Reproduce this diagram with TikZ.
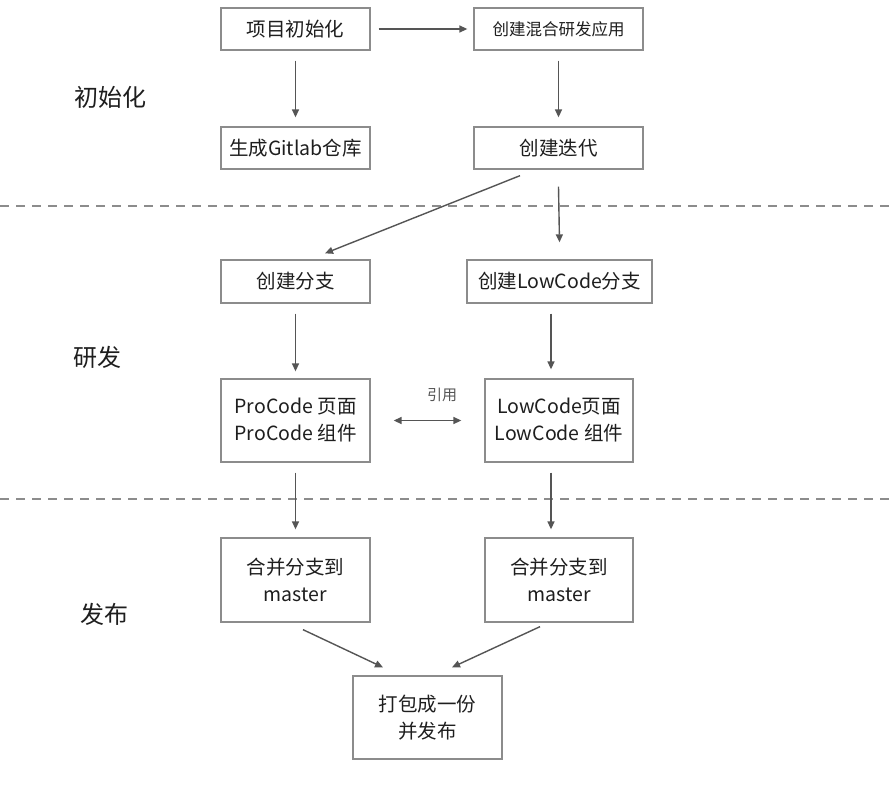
\documentclass[tikz,border=0pt]{standalone}
\usepackage{fontspec}
\setmainfont{Noto Sans CJK SC}
\usetikzlibrary{arrows.meta}
\definecolor{boxline}{HTML}{8C8C8C}
\definecolor{arr}{HTML}{555555}
\definecolor{txt}{HTML}{1E1E1E}
\begin{document}
\begin{tikzpicture}[x=1pt,y=-1pt,
  box/.style={draw=boxline,line width=1.3pt,inner sep=0pt,text=txt,font=\fontsize{19.5}{27}\selectfont,align=center},
  conn/.style={draw=arr,line width=1.4pt,-{Triangle[length=8pt,width=7pt]}},
  sect/.style={text=txt,font=\fontsize{24}{28}\selectfont},
  sep/.style={draw=boxline,line width=1.2pt,dash pattern=on 9pt off 7pt}]
\useasboundingbox (0,0) rectangle (894,785);
\fill[white] (0,0) rectangle (894,785);
% boxes
\node[box,minimum width=149pt,minimum height=42pt] (init) at (295.5,29) {项目初始化};
\node[box,minimum width=169pt,minimum height=42pt,font=\fontsize{16.5}{20}\selectfont] (mix) at (558.5,29) {创建混合研发应用};
\node[box,minimum width=149pt,minimum height=42pt] (git) at (295.5,148) {生成Gitlab仓库};
\node[box,minimum width=169pt,minimum height=42pt] (iter) at (558.5,148) {创建迭代};
\node[box,minimum width=149pt,minimum height=43pt] (br) at (295.5,281.5) {创建分支};
\node[box,minimum width=185pt,minimum height=43pt] (lbr) at (559.5,281.5) {创建LowCode分支};
\node[box,minimum width=149pt,minimum height=83pt] (pro) at (295.5,420.5) {ProCode 页面\\ProCode 组件};
\node[box,minimum width=148pt,minimum height=83pt] (low) at (559,420.5) {LowCode页面\\LowCode 组件};
\node[box,minimum width=149pt,minimum height=84pt] (ml) at (295.5,580) {合并分支到\\master};
\node[box,minimum width=148pt,minimum height=84pt] (mr) at (559,580) {合并分支到\\master};
\node[box,minimum width=149pt,minimum height=83pt] (pub) at (427.5,717.5) {打包成一份\\并发布};
% section labels
\node[sect] (s1) at (110,97) {初始化};
\node[sect] (s2) at (97,357) {研发};
\node[sect] (s3) at (104,614) {发布};
% separators
\coordinate (d1l) at (0,206); \coordinate (d1r) at (894,206);
\coordinate (d2l) at (0,499); \coordinate (d2r) at (894,499);
\draw[sep] (d1l) -- (d1r);
\draw[sep] (d2l) -- (d2r);
% connectors
\draw[conn] ([xshift=8pt]init.east) -- ([xshift=-6pt]mix.west);
\draw[conn] ([yshift=-10pt]init.south) -- ([yshift=9pt]git.north);
\draw[conn] ([yshift=-10pt]mix.south) -- ([yshift=9pt]iter.north);
\draw[conn] ([shift={(-38.5pt,-6pt)}]iter.south) -- ([shift={(29.5pt,6pt)}]br.north);
\draw[conn] ([yshift=-17pt]iter.south) -- ([yshift=17pt]lbr.north);
\draw[conn] ([yshift=-10pt]br.south) -- ([yshift=7pt]pro.north);
\draw[conn] ([xshift=-8.5pt,yshift=-10pt]lbr.south) -- ([xshift=-8pt,yshift=9pt]low.north);
\draw[conn,{Triangle[length=8pt,width=7pt]}-{Triangle[length=8pt,width=7pt]}] ([xshift=23pt]pro.east) -- ([xshift=-23pt]low.west);
\node[text=arr,font=\fontsize{15}{17}\selectfont] (ref) at (442,395) {引用};
\draw[conn] ([yshift=-10pt]pro.south) -- ([yshift=8pt]ml.north);
\draw[conn] ([xshift=-8pt,yshift=-10pt]low.south) -- ([xshift=-8pt,yshift=8pt]mr.north);
\draw[conn] ([shift={(7.5pt,-7pt)}]ml.south) -- ([shift={(-44.5pt,8pt)}]pub.north);
\draw[conn] ([shift={(-19pt,-4pt)}]mr.south) -- ([shift={(24.5pt,8pt)}]pub.north);
\end{tikzpicture}
\end{document}
